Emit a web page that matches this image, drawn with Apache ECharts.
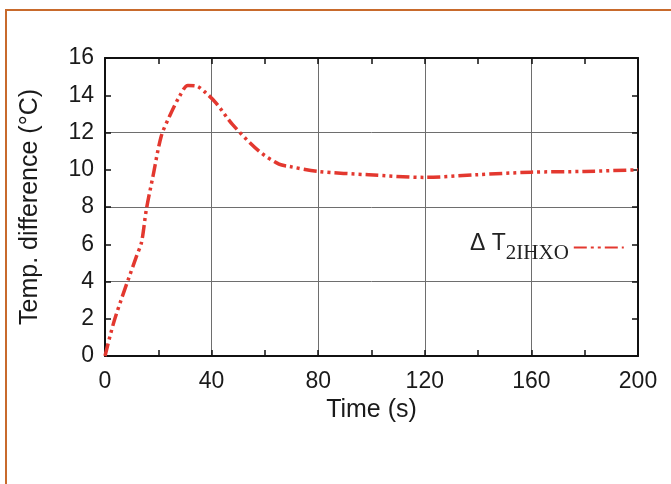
<!DOCTYPE html>
<html>
<head>
<meta charset="utf-8">
<script src="https://cdn.jsdelivr.net/npm/echarts@6/dist/echarts.min.js"></script>
<style>
  html, body { margin: 0; padding: 0; background: #fff; }
  #chart { width: 671px; height: 484px; }
</style>
</head>
<body>
<div id="chart"></div>
<script>
// data
const timeS = [0, 3.7, 11.8, 13.7, 15.5, 18, 21.1, 24.3, 28, 31.1, 34.2, 37.9, 41.7, 47.9, 57.8, 65.3, 69, 80, 99, 120, 139, 160, 180, 200]
const deltaT = [0, 2.0, 5.35, 6.1, 7.85, 9.65, 11.8, 12.9, 13.95, 14.53, 14.5, 14.12, 13.58, 12.42, 11.0, 10.3, 10.18, 9.91, 9.73, 9.59, 9.73, 9.87, 9.91, 10.0]
const seriesName = 'ΔT2IHXO'

const pts = timeS.map((t, i) => [t, deltaT[i]])

const red = '#e3382f'
const tickFont = { fontFamily: 'Liberation Sans, Arial, sans-serif', fontSize: 23, color: '#1a1a1a' }
const nameFont = { fontFamily: 'Liberation Sans, Arial, sans-serif', fontSize: 25, color: '#1a1a1a' }
const tickLine = { color: '#111', width: 1.5 }

const chart = echarts.init(document.getElementById('chart'))
chart.setOption({
  backgroundColor: '#fff',
  animation: false,
  graphic: [
    { type: 'line', shape: { x1: 5, y1: 10, x2: 671, y2: 10 }, style: { stroke: '#c86a2c', lineWidth: 2 } },
    { type: 'line', shape: { x1: 6, y1: 10, x2: 6, y2: 484 }, style: { stroke: '#c86a2c', lineWidth: 2 } }
  ],
  grid: { left: 105, top: 58, right: 33, bottom: 128 },
  legend: {
    data: [seriesName],
    left: 465,
    top: 227,
    align: 'right',
    itemWidth: 50,
    itemGap: 0,
    itemStyle: { color: 'rgba(0,0,0,0)', borderWidth: 0 },
    formatter: () => '{a|Δ T}{b|2IHXO}',
    textStyle: {
      rich: {
        a: { fontFamily: 'Liberation Sans, Arial, sans-serif', fontSize: 23, color: '#222', padding: [0, 0, 8, 0] },
        b: { fontFamily: 'Liberation Serif, Times New Roman, serif', fontSize: 21, color: '#222', padding: [12, 0, 0, 0] }
      }
    }
  },
  xAxis: [
    {
      type: 'value', min: 0, max: 200, interval: 40,
      name: 'Time (s)', nameLocation: 'middle', nameGap: 42,
      nameTextStyle: nameFont,
      axisLine: { onZero: false, lineStyle: { color: '#111', width: 2 } },
      axisTick: { inside: true, length: 6, lineStyle: tickLine },
      minorTick: { show: true, splitNumber: 2, length: 6, lineStyle: tickLine },
      axisLabel: Object.assign({ margin: 14 }, tickFont),
      splitLine: { show: true, lineStyle: { color: '#6e6e6e', width: 1 } }
    },
    {
      type: 'value', position: 'top', min: 0, max: 200, interval: 40,
      axisLine: { onZero: false, lineStyle: { color: '#111', width: 2 } },
      axisTick: { inside: true, length: 6, lineStyle: tickLine },
      minorTick: { show: true, splitNumber: 2, length: 6, lineStyle: tickLine },
      axisLabel: { show: false },
      splitLine: { show: false }
    }
  ],
  yAxis: [
    {
      type: 'value', min: 0, max: 16, interval: 2,
      name: 'Temp. difference (°C)', nameLocation: 'middle', nameGap: 62,
      nameTextStyle: nameFont,
      axisLine: { onZero: false, lineStyle: { color: '#111', width: 2 } },
      axisTick: { inside: true, length: 6, lineStyle: tickLine },
      axisLabel: Object.assign({ margin: 11 }, tickFont),
      splitLine: { show: false }
    },
    {
      type: 'value', position: 'right', min: 0, max: 16, interval: 4,
      axisLine: { show: true, onZero: false, lineStyle: { color: '#111', width: 2 } },
      axisTick: { show: true, inside: true, length: 6, lineStyle: tickLine },
      minorTick: { show: true, splitNumber: 2, length: 6, lineStyle: tickLine },
      axisLabel: { show: false },
      splitLine: { show: true, lineStyle: { color: '#6e6e6e', width: 1 } }
    }
  ],
  series: [
    {
      name: seriesName,
      type: 'line',
      data: pts,
      smooth: 0.3,
      showSymbol: false,
      symbol: 'none',
      itemStyle: { color: red },
      lineStyle: { color: red, width: 3.5, type: [13, 4, 3, 4, 3, 4] }
    }
  ]
})
</script>
</body>
</html>
